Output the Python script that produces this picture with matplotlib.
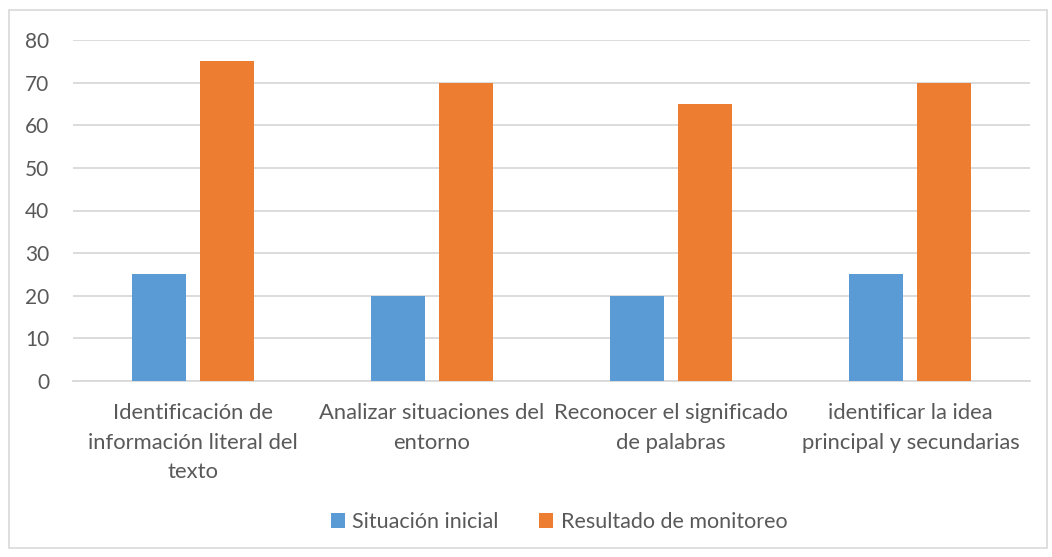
import matplotlib
matplotlib.use("Agg")
import matplotlib.pyplot as plt
import numpy as np
from matplotlib.patches import Rectangle

categories = ["Identificación de\ninformación literal del\ntexto",
              "Analizar situaciones del\nentorno",
              "Reconocer el significado\nde palabras",
              "identificar la idea\nprincipal y secundarias"]
series_names = ["Situación inicial", "Resultado de monitoreo"]
situacion_inicial = [25, 20, 20, 25]
resultado_monitoreo = [75, 70, 65, 70]
yticks = [0, 10, 20, 30, 40, 50, 60, 70, 80]

plt.rcParams['font.family'] = ['Lato', 'DejaVu Sans']
text_color = '#595959'
grid_color = '#D9D9D9'

fig = plt.figure(figsize=(10.52, 5.57), dpi=100)
fig.patches.append(Rectangle((9/1052, 1-548/557), (1047-9)/1052, (548-10)/557,
                             transform=fig.transFigure, fill=False,
                             edgecolor=grid_color, linewidth=1.2))
ax = fig.add_axes([73/1052, 1-381/557, (1030-73)/1052, (381-40)/557])

x = np.arange(len(categories))
w = 0.226
off = 0.142
ax.bar(x - off, situacion_inicial, w, color='#5B9BD5', label=series_names[0], zorder=3)
ax.bar(x + off, resultado_monitoreo, w, color='#ED7D31', label=series_names[1], zorder=3)

ax.set_xlim(-0.5, len(categories) - 0.5)
ax.set_ylim(0, 80)
ax.set_yticks(yticks)
ax.yaxis.grid(True, color=grid_color, linewidth=1.3, zorder=0)
ax.set_axisbelow(True)
for s in ['top', 'right', 'left']:
    ax.spines[s].set_visible(False)
ax.spines['bottom'].set_color(grid_color)
ax.spines['bottom'].set_linewidth(1.3)
ax.tick_params(axis='both', length=0, colors=text_color)
ax.tick_params(axis='y', pad=17, labelsize=15)
ax.tick_params(axis='x', pad=16, labelsize=15.8)
ax.set_xticks(x)
ax.set_xticklabels(categories, linespacing=1.58)

fig.legend(loc='center', bbox_to_anchor=(559/1052, 1-522/557), ncol=2, frameon=False,
           fontsize=15.5, labelcolor=text_color, handlelength=0.65, handleheight=0.65,
           handletextpad=0.35, columnspacing=1.9)

fig.savefig('out.png', dpi=100)
